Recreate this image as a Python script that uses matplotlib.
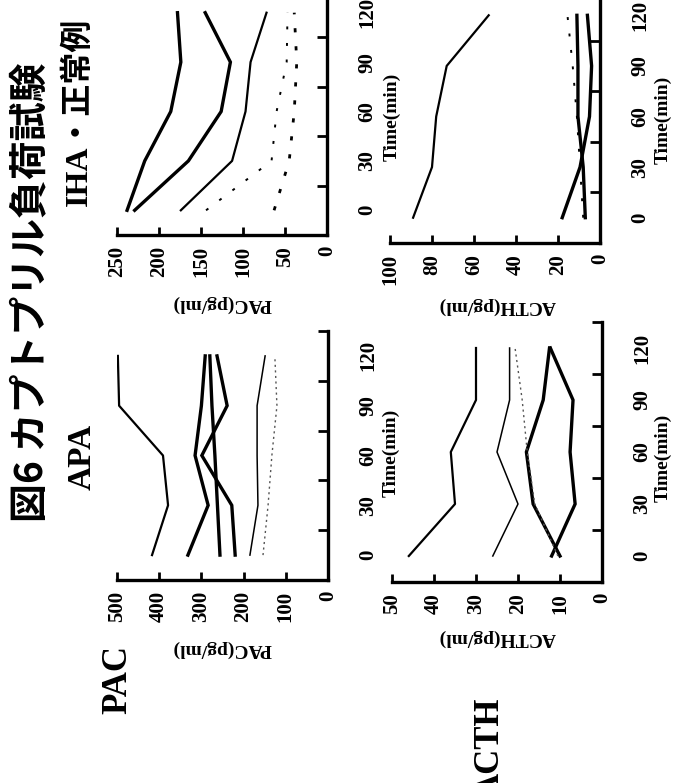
import numpy as np
import matplotlib
matplotlib.use("Agg")
import matplotlib.pyplot as plt
from matplotlib.ticker import FixedLocator

# time categories (min)
times = ['0', '30', '60', '90', '120']

# IHA / normal, PAC (pg/ml)
iha_pac_a = [238, 217, 186, 174, 178]
iha_pac_b = [229, 165, 126, 115, 145]
iha_pac_c = [174, 113, 97, 91, 72]
iha_pac_d = [144, 66, 60, 48, 47]
iha_pac_e = [63, 45, 39, 36, 39]

# IHA / normal, ACTH (pg/ml)
iha_acth_f = [89, 80, 78, 73, 53]
iha_acth_g = [18, 9.5, 5, 4, 6]
iha_acth_h = [7, 8, 10.5, 10.5, 11]
iha_acth_i = [8, 9.5, 11, 13, 15.5]

# APA, PAC (pg/ml)
apa_pac_1 = [417, 379, 391, 495, 498]
apa_pac_a = [332, 284, 315, 300, 291]
apa_pac_b = [256, 262, 268, 275, 280]
apa_pac_c = [220, 228, 299, 239, 263]
apa_pac_d = [185, 166, 168, 168, 149]
apa_pac_e = [154, 142, 133, 121, 126]

# APA, ACTH (pg/ml)
apa_acth_1 = [46, 35, 36, 30, 30]
apa_acth_2 = [26, 20, 25, 22, 22]
apa_acth_3 = [10, 16.4, 18, 14, 12.5]
apa_acth_4 = [12, 6.4, 7.6, 6.9, 12.3]
apa_acth_5 = [10.5, 16, 17.8, 19, 20.7]

W, H = 673, 783
plt.rcParams['font.family'] = ['Liberation Serif']
plt.rcParams['font.weight'] = 'bold'
plt.rcParams['font.size'] = 15

fig = plt.figure(figsize=(W / 100, H / 100), dpi=100)
fig.patch.set_facecolor('white')

JP = ['Noto Sans CJK JP']
MIX = ['Liberation Serif', 'Noto Sans CJK JP']

thick = dict(color='black', lw=2.4, solid_joinstyle='miter')
mid = dict(color='black', lw=1.6)
thin = dict(color='black', lw=1.1)
dots = dict(color='#555555', lw=1.0, linestyle=(0, (1.5, 2.5)))
dash_s = dict(color='black', lw=1.4, linestyle=(0, (1.5, 7)))
dash_b = dict(color='black', lw=2.0, linestyle=(0, (1.5, 5)))


def px_axes(left, top, right, bottom):
    return fig.add_axes([left / W, 1 - bottom / H, (right - left) / W, (bottom - top) / H])


def panel(ax, series, vmax, vstep):
    y = np.arange(len(times))
    for vals, st in series:
        ax.plot(vals, y, **st)
    ax.set_xlim(vmax, 0)
    ax.set_ylim(-0.5, len(times) - 0.5)
    for s in ['top', 'left']:
        ax.spines[s].set_visible(False)
    for s in ['bottom', 'right']:
        ax.spines[s].set_linewidth(2.4)
    ticks = np.arange(0, vmax + 1, vstep)
    ax.set_xticks(ticks)
    ax.set_xticklabels([str(int(t)) for t in ticks])
    ax.tick_params(axis='x', direction='in', length=6, width=2, pad=8, labelrotation=90)
    ax.yaxis.tick_right()
    ax.set_yticks(y)
    ax.set_yticklabels(times)
    ax.yaxis.set_minor_locator(FixedLocator(np.arange(0.5, len(times), 1.0)))
    ax.tick_params(axis='y', which='major', length=0, pad=22, labelrotation=90)
    ax.tick_params(axis='y', which='minor', direction='in', length=7, width=2,
                   right=True, left=False)
    for lab in ax.get_yticklabels():
        lab.set_va('center')


# IHA PAC
ax1 = px_axes(117, -12, 327, 235)
panel(ax1, [(iha_pac_a, thick), (iha_pac_b, thick), (iha_pac_c, mid),
            (iha_pac_d, dash_s), (iha_pac_e, dash_b)], 250, 50)

# IHA ACTH
ax2 = px_axes(390, -10, 600, 243)
panel(ax2, [(iha_acth_f, mid), (iha_acth_g, thick), (iha_acth_h, thick),
            (iha_acth_i, dash_s)], 100, 20)

# APA PAC
ax3 = px_axes(117, 331, 328, 580)
panel(ax3, [(apa_pac_1, mid), (apa_pac_a, thick), (apa_pac_b, thick),
            (apa_pac_c, thick), (apa_pac_d, thin), (apa_pac_e, dots)], 500, 100)

# APA ACTH
ax4 = px_axes(392, 322, 602, 582)
panel(ax4, [(apa_acth_1, mid), (apa_acth_2, thin), (apa_acth_3, thick),
            (apa_acth_4, thick), (apa_acth_5, dots)], 50, 10)


def ftext(x, y, s, **kw):
    fig.text(x / W, 1 - y / H, s, ha='center', va='center', **kw)


# axis titles
ftext(222, 304, 'PAC(pg/ml)', rotation=180, fontsize=14)
ftext(497, 306, 'ACTH(pg/ml)', rotation=180, fontsize=14)
ftext(222, 649, 'PAC(pg/ml)', rotation=180, fontsize=14)
ftext(497, 638, 'ACTH(pg/ml)', rotation=180, fontsize=14)
ftext(392, 117, 'Time(min)', rotation=90, fontsize=14)
ftext(663, 120, 'Time(min)', rotation=90, fontsize=14)
ftext(391, 453, 'Time(min)', rotation=90, fontsize=14)
ftext(663, 458, 'Time(min)', rotation=90, fontsize=14)

# headings
ftext(31, 292, '図6 カプトプリル負荷試験', rotation=90, fontsize=28,
      family=JP, weight='bold')
ftext(79, 112, 'IHA・正常例', rotation=90, fontsize=23, family=MIX, weight='bold')
ftext(82, 457, 'APA', rotation=90, fontsize=24, weight='bold')
ftext(118, 680, 'PAC', rotation=90, fontsize=25, weight='bold')
ftext(490, 748, 'ACTH', rotation=90, fontsize=25, weight='bold')

fig.savefig('out.png', dpi=100, facecolor='white')
